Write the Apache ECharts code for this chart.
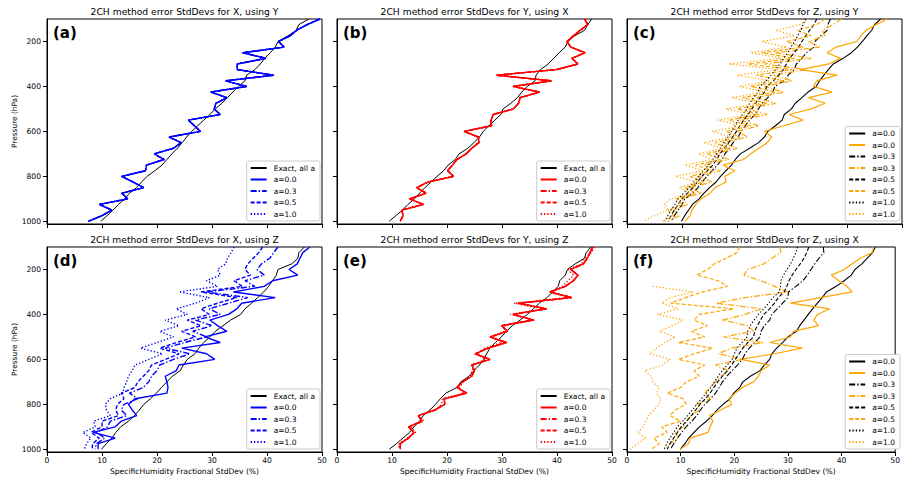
<!DOCTYPE html>
<html>
<head>
<meta charset="utf-8">
<script src="https://cdn.jsdelivr.net/npm/echarts@6/dist/echarts.min.js"></script>
<style>
  html, body { margin: 0; padding: 0; background: #fff; }
  #chart { width: 903px; height: 478px; }
</style>
</head>
<body>
<div id="chart"></div>
<script>
// pressure levels (hPa), top to bottom
const levels = [100,125,150,175,200,225,250,275,300,325,350,375,400,425,450,475,500,525,550,575,600,625,650,675,700,725,750,775,800,825,850,875,900,925,950,975,1000];

// (a) X using Y
const aExact = [47.6,45.8,45.3,43.8,42.0,41.5,40.6,39.6,38.8,37.8,36.3,36.0,34.8,33.8,32.8,31.8,30.6,29.6,28.5,27.4,26.3,25.4,24.6,23.7,22.7,21.8,20.9,19.6,18.2,17.2,16.3,15.0,14.1,13.0,12.0,10.9,9.8];
const aBlue = [49.6,47.3,45.4,44.2,42.1,43.1,35.6,39.8,34.6,34.6,41.2,32.5,36.3,29.8,32.7,30.7,30.4,31.5,25.7,26.8,27.9,22.2,24.4,23.0,19.5,21.3,18.1,17.9,13.6,15.6,17.6,13.6,14.7,9.5,11.8,10.0,7.5];

// (b) Y using X
const bExact = [46.3,45.6,45.0,43.2,42.0,41.5,40.4,39.4,38.4,37.0,36.2,36.0,34.6,33.6,32.8,31.6,30.2,29.8,28.7,27.6,26.6,25.9,24.9,23.8,22.2,21.5,20.2,19.4,18.2,17.1,16.0,15.0,14.1,12.9,11.9,10.7,9.5];
const bRed = [45.0,45.6,44.2,43.0,41.8,42.5,45.1,42.7,43.8,39.9,29.0,39.0,32.0,36.8,33.3,33.0,32.1,28.4,28.0,28.1,23.1,25.7,25.8,24.5,23.5,21.8,21.0,20.1,21.2,16.6,14.5,16.2,13.2,15.7,11.8,12.0,11.5];

// (c) Z using Y
const cBlack0 = [46.1,45.0,44.5,43.6,42.8,41.9,40.8,39.3,37.5,36.6,35.8,35.0,34.4,32.9,31.8,30.6,29.9,28.6,28.2,27.0,25.6,25.0,23.9,22.3,20.6,19.7,19.0,18.0,17.0,16.2,15.0,14.0,13.1,11.9,11.2,10.5,9.9];
const cOrange0 = [47.3,45.3,43.5,42.5,41.8,38.0,36.4,38.8,36.7,31.5,38.2,34.5,33.9,37.3,33.0,36.0,33.5,29.5,32.0,28.5,25.0,26.3,25.5,24.0,22.5,21.2,17.5,19.6,17.8,18.0,16.0,15.1,13.5,12.5,11.8,11.5,10.5];
const cBlack3 = [37.0,36.5,36.4,35.2,34.2,34.0,32.6,31.8,30.8,30.4,29.3,28.5,26.9,26.5,25.6,24.5,23.9,23.2,22.3,21.5,20.8,20.2,19.3,18.6,17.8,17.3,16.4,15.5,14.5,13.7,12.9,11.9,10.5,10.0,9.3,8.6,8.1];
const cOrange3 = [39.0,37.5,35.5,36.0,33.0,35.0,27.0,33.5,25.0,32.5,26.5,30.0,25.0,28.5,23.5,27.0,22.0,25.5,20.5,24.0,20.0,22.0,17.5,20.0,16.0,18.5,14.0,17.0,13.0,15.5,11.5,13.5,10.0,11.0,8.5,9.5,7.5];
const cBlack5 = [34.5,34.0,33.2,32.5,31.8,31.2,30.4,29.6,29.0,28.4,27.6,26.6,25.4,25.0,24.2,23.3,22.7,22.0,21.2,20.5,19.9,19.2,18.5,17.7,16.9,16.3,15.6,14.6,13.6,12.8,12.0,11.0,9.9,9.3,8.6,8.0,7.5];
const cOrange5 = [36.0,34.5,31.0,33.5,29.0,32.0,24.5,30.5,22.0,30.0,23.5,28.5,22.5,27.0,21.0,25.5,20.0,24.0,18.5,22.5,18.0,20.5,16.0,18.5,14.5,17.0,12.5,15.5,11.5,14.0,10.5,12.5,9.0,10.0,7.5,8.5,6.5];
const cBlack10 = [32.5,32.0,31.6,31.0,30.5,29.8,29.2,28.5,27.8,27.0,26.2,25.3,24.2,23.8,23.0,22.3,21.8,21.0,20.2,19.6,19.0,18.4,17.6,17.0,16.3,15.6,14.8,13.9,13.0,12.2,11.3,10.3,9.3,8.7,8.0,7.4,6.9];
const cOrange10 = [33.0,31.5,27.0,30.5,24.5,29.0,22.5,28.0,18.5,27.5,20.0,26.0,20.5,25.0,19.0,24.0,18.0,22.5,16.5,21.0,15.5,19.0,14.0,17.5,13.0,15.5,10.5,14.0,8.8,13.0,9.5,11.5,8.0,6.7,7.5,5.0,3.0];

// (d) X using Z
const dExact = [46.8,45.8,45.6,44.5,42.0,41.7,41.0,40.3,39.4,38.3,37.2,36.0,35.2,33.4,32.0,30.6,29.6,28.5,27.6,26.9,25.5,24.8,24.2,22.8,21.8,20.8,19.9,18.8,17.6,16.8,15.9,14.8,13.4,12.5,11.8,10.8,9.9];
const dBlue0 = [47.8,46.5,46.0,45.5,44.0,45.6,41.0,39.5,33.9,41.5,35.4,34.5,33.0,29.6,31.0,32.7,28.7,31.5,24.5,29.0,30.5,24.0,23.5,21.5,21.8,22.0,21.8,16.0,14.8,15.5,16.3,13.5,12.4,8.4,12.4,9.3,9.3];
const dBlue3 = [42.0,41.2,40.5,39.0,38.2,39.5,36.0,37.8,29.0,36.5,33.0,29.5,31.5,27.0,30.0,26.5,29.0,25.0,21.5,26.0,23.0,20.5,20.0,19.0,18.5,17.5,15.0,16.5,14.0,13.5,14.5,11.5,11.0,9.0,10.5,9.0,8.7];
const dBlue5 = [39.2,38.5,37.5,36.5,36.0,37.0,34.0,35.5,28.0,34.5,31.0,28.0,29.5,25.5,28.0,24.5,27.0,23.5,20.5,24.0,21.5,19.0,18.5,17.5,16.5,16.0,13.5,14.0,12.8,12.5,13.0,10.0,10.0,8.0,9.5,8.3,8.2];
const dBlue10 = [34.0,33.5,32.8,32.5,31.0,31.5,29.0,31.0,24.0,29.5,27.0,23.5,25.5,21.5,24.0,20.5,23.0,20.0,17.0,21.0,18.5,16.0,15.5,14.8,14.5,14.0,13.8,11.5,10.6,10.8,11.5,8.5,8.8,6.5,8.0,7.2,6.8];

// (e) Y using Z
const eExact = [46.2,45.3,45.0,43.3,41.9,41.5,40.5,40.2,39.2,38.2,36.8,35.7,34.6,33.3,31.9,30.8,29.9,28.8,27.8,27.2,26.7,25.9,24.9,24.0,22.5,21.8,19.8,18.8,17.9,16.9,15.7,15.0,14.0,13.2,12.0,10.8,9.5];
const eRed0 = [46.5,46.0,45.5,44.8,42.5,43.8,43.0,41.5,38.7,42.7,33.0,38.1,32.0,35.7,29.9,31.0,27.8,30.8,27.5,25.1,27.8,24.5,25.0,24.5,22.8,21.8,23.6,19.5,19.6,17.8,14.8,15.4,13.0,14.0,13.0,11.5,11.5];
const eRed10 = [46.8,46.3,45.0,44.5,42.0,43.0,42.0,41.0,39.0,41.8,32.2,37.5,31.5,36.0,30.5,30.5,28.2,30.0,26.8,25.5,27.0,24.8,24.6,24.2,23.0,22.2,23.0,19.2,19.0,18.0,15.0,15.8,13.4,14.3,12.8,11.3,11.2];

// (f) Z using X
const fBlack0 = [46.3,45.8,44.8,43.8,42.5,41.8,40.5,39.0,37.2,36.4,35.5,34.6,33.8,33.0,32.2,31.6,30.0,29.0,27.9,27.0,26.6,25.6,24.8,23.0,21.6,21.0,19.9,19.2,17.9,16.8,15.9,14.8,13.5,12.5,11.5,10.8,9.9];
const fOrange0 = [46.0,45.7,43.5,42.0,40.5,38.1,39.5,41.0,42.0,36.0,30.5,37.8,35.5,34.8,35.7,31.0,30.5,26.6,32.7,27.5,21.2,26.6,25.0,24.5,23.6,21.5,20.2,19.0,19.5,17.5,15.4,16.0,15.5,15.1,11.8,11.5,9.9];
const fBlack3 = [36.6,36.7,35.8,35.0,34.3,33.6,32.8,31.5,30.1,30.0,29.0,28.0,27.0,26.6,25.6,25.0,24.8,23.8,22.8,22.0,21.5,20.6,19.6,18.6,17.8,17.2,16.5,15.6,14.5,13.7,13.0,12.1,11.0,10.2,9.4,8.7,8.1];
const fOrange3 = [28.5,28.7,27.0,25.5,22.5,21.8,25.0,27.5,30.0,22.0,16.6,25.1,22.0,17.8,22.5,23.6,18.0,25.4,19.5,17.0,21.5,16.5,19.0,17.5,16.5,15.5,14.5,15.5,13.0,13.5,12.0,11.0,10.5,9.0,9.5,8.0,7.0];
const fBlack5 = [33.9,33.5,33.0,32.3,31.5,30.8,30.2,29.8,29.3,28.2,27.5,26.6,25.5,24.9,24.3,23.8,23.6,22.5,21.6,20.9,20.2,19.5,18.7,17.8,16.9,16.2,15.5,14.6,13.6,12.8,12.0,11.1,10.1,9.4,8.7,8.0,7.5];
const fOrange5 = [21.0,20.5,18.5,16.3,15.0,13.0,17.0,18.7,14.0,11.0,8.1,19.9,13.5,12.5,15.0,12.0,14.5,9.6,16.0,12.5,9.6,14.5,12.5,13.5,11.0,10.0,7.5,10.5,11.0,9.0,8.0,10.0,6.5,7.5,5.0,6.0,4.5];
const fBlack10 = [31.8,31.5,31.0,30.5,29.8,29.2,28.7,28.6,28.4,27.2,26.4,25.5,24.5,23.7,23.0,22.5,22.4,21.4,20.5,20.0,19.6,18.7,17.8,17.0,16.3,15.6,14.8,13.9,13.0,12.2,11.3,10.4,9.4,8.7,8.0,7.4,6.9];
const fOrange10 = [null,null,null,null,null,null,null,4.8,12.4,8.0,6.5,9.5,5.7,10.5,8.5,6.0,9.0,7.0,5.5,4.2,8.0,6.6,3.3,4.5,4.8,6.0,5.5,6.3,6.0,5.0,4.0,3.5,3.0,2.0,3.5,2.0,0.5];

const titles = [
  "2CH method error StdDevs for X, using Y",
  "2CH method error StdDevs for Y, using X",
  "2CH method error StdDevs for Z, using Y",
  "2CH method error StdDevs for X, using Z",
  "2CH method error StdDevs for Y, using Z",
  "2CH method error StdDevs for Z, using X"
];
const tags = ["(a)", "(b)", "(c)", "(d)", "(e)", "(f)"];
const yTicks = [200, 400, 600, 800, 1000];
const xName = "SpecificHumidity Fractional StdDev (%)";
const yName = "Pressure (hPa)";

const FONT = "'DejaVu Sans', sans-serif";
const BLUE = "#0000ff", RED = "#ff0000", ORANGE = "#ffa500", BLACK = "#000000";
const SOLID = "solid", DASHDOT = [6, 2, 1.4, 2], DASHED = [4, 2], DOTTED = [1.3, 2];

// [id, legend text, values, color, dash, width]
const panels = [
  [["a_ex","Exact, all a",aExact,BLACK,SOLID,1],["a_0","a=0.0",aBlue,BLUE,SOLID,1.4],["a_3","a=0.3",aBlue,BLUE,DASHDOT,1.4],["a_5","a=0.5",aBlue,BLUE,DASHED,1.4],["a_10","a=1.0",aBlue,BLUE,DOTTED,1.4]],
  [["b_ex","Exact, all a",bExact,BLACK,SOLID,1],["b_0","a=0.0",bRed,RED,SOLID,1.4],["b_3","a=0.3",bRed,RED,DASHDOT,1.4],["b_5","a=0.5",bRed,RED,DASHED,1.4],["b_10","a=1.0",bRed,RED,DOTTED,1.4]],
  [["c_k0","a=0.0",cBlack0,BLACK,SOLID,1.1],["c_o0","a=0.0",cOrange0,ORANGE,SOLID,1.2],["c_k3","a=0.3",cBlack3,BLACK,DASHDOT,1.1],["c_o3","a=0.3",cOrange3,ORANGE,DASHDOT,1.2],["c_k5","a=0.5",cBlack5,BLACK,DASHED,1.1],["c_o5","a=0.5",cOrange5,ORANGE,DASHED,1.2],["c_k10","a=1.0",cBlack10,BLACK,DOTTED,1.1],["c_o10","a=1.0",cOrange10,ORANGE,DOTTED,1.2]],
  [["d_ex","Exact, all a",dExact,BLACK,SOLID,1],["d_0","a=0.0",dBlue0,BLUE,SOLID,1.4],["d_3","a=0.3",dBlue3,BLUE,DASHDOT,1.4],["d_5","a=0.5",dBlue5,BLUE,DASHED,1.4],["d_10","a=1.0",dBlue10,BLUE,DOTTED,1.4]],
  [["e_ex","Exact, all a",eExact,BLACK,SOLID,1],["e_0","a=0.0",eRed0,RED,SOLID,1.4],["e_3","a=0.3",eRed0,RED,DASHDOT,1.4],["e_5","a=0.5",eRed0,RED,DASHED,1.4],["e_10","a=1.0",eRed10,RED,DOTTED,1.4]],
  [["f_k0","a=0.0",fBlack0,BLACK,SOLID,1.1],["f_o0","a=0.0",fOrange0,ORANGE,SOLID,1.2],["f_k3","a=0.3",fBlack3,BLACK,DASHDOT,1.1],["f_o3","a=0.3",fOrange3,ORANGE,DASHDOT,1.2],["f_k5","a=0.5",fBlack5,BLACK,DASHED,1.1],["f_o5","a=0.5",fOrange5,ORANGE,DASHED,1.2],["f_k10","a=1.0",fBlack10,BLACK,DOTTED,1.1],["f_o10","a=1.0",fOrange10,ORANGE,DOTTED,1.2]]
];

const gx = [47, 337, 627], gy = [19, 247], gw = 275, gh = 205;
const legRight = [583, 293, 3], legBottom = [257, 29];

const labelOf = {};
const grid = [], xAxis = [], yAxis = [], series = [], legend = [], graphic = [];

panels.forEach(function (lines, i) {
  const r = Math.floor(i / 3), c = i % 3;
  grid.push({ left: gx[c], top: gy[r], width: gw, height: gh, show: true, borderColor: "#000", borderWidth: 1 });
  xAxis.push({
    gridIndex: i, type: "value", min: 0, max: 50, interval: 10,
    axisLine: { onZero: false, lineStyle: { color: "#000", width: 1 } },
    axisTick: { length: 4, lineStyle: { color: "#000" } },
    axisLabel: { show: r === 1, fontSize: 7.6, color: "#000", margin: 4, fontFamily: FONT },
    splitLine: { show: false },
    name: r === 1 ? xName : "", nameLocation: "middle", nameGap: 15,
    nameTextStyle: { fontSize: 7.6, color: "#000", fontFamily: FONT }
  });
  yAxis.push({
    gridIndex: i, type: "value", inverse: true, min: 100, max: 1012,
    axisLine: { lineStyle: { color: "#000", width: 1 } },
    axisTick: { length: 4, customValues: yTicks, lineStyle: { color: "#000" } },
    axisLabel: {
      show: c === 0, customValues: yTicks, fontSize: 7.6, color: "#000", margin: 6, fontFamily: FONT,
      formatter: function (v) { return String(v); }
    },
    splitLine: { show: false },
    name: c === 0 ? yName : "", nameLocation: "middle", nameGap: 29,
    nameTextStyle: { fontSize: 7.4, color: "#000", fontFamily: FONT }
  });
  lines.forEach(function (s) {
    labelOf[s[0]] = s[1];
    series.push({
      type: "line", name: s[0], xAxisIndex: i, yAxisIndex: i,
      data: s[2].map(function (v, k) { return [v, levels[k]]; }),
      symbol: "none", showSymbol: false, silent: true,
      lineStyle: { color: s[3], type: s[4], width: s[5] },
      itemStyle: { color: s[3] },
      emphasis: { disabled: true }
    });
  });
  legend.push({
    data: lines.map(function (s) { return s[0]; }),
    orient: "vertical", right: legRight[c], bottom: legBottom[r],
    itemWidth: 16, itemHeight: 8, itemGap: 3.5,
    padding: [3, 5, 3, 3], selectedMode: false,
    backgroundColor: "#fff", borderColor: "#cccccc", borderWidth: 1, borderRadius: 2,
    itemStyle: { color: "rgba(0,0,0,0)", borderColor: "rgba(0,0,0,0)", borderWidth: 0, opacity: 0 },
    textStyle: { fontSize: 7.5, color: "#000", fontFamily: FONT, padding: [0, 0, 0, 2] },
    formatter: function (n) { return labelOf[n]; }
  });
  graphic.push({
    type: "text", x: gx[c] + gw / 2, y: r === 0 ? 11 : 239.5,
    style: { text: titles[i], fill: "#000", font: "9.2px " + FONT, align: "center", verticalAlign: "middle" }
  });
  graphic.push({
    type: "text", x: gx[c] + 6, y: gy[r] + 14, z: 100,
    style: { text: tags[i], fill: "#000", font: "bold 15px " + FONT, align: "left", verticalAlign: "middle" }
  });
});

const chart = echarts.init(document.getElementById("chart"), null, { renderer: "svg" });
chart.setOption({
  animation: false,
  backgroundColor: "#fff",
  grid: grid,
  xAxis: xAxis,
  yAxis: yAxis,
  legend: legend,
  graphic: graphic,
  series: series
});
</script>
</body>
</html>
